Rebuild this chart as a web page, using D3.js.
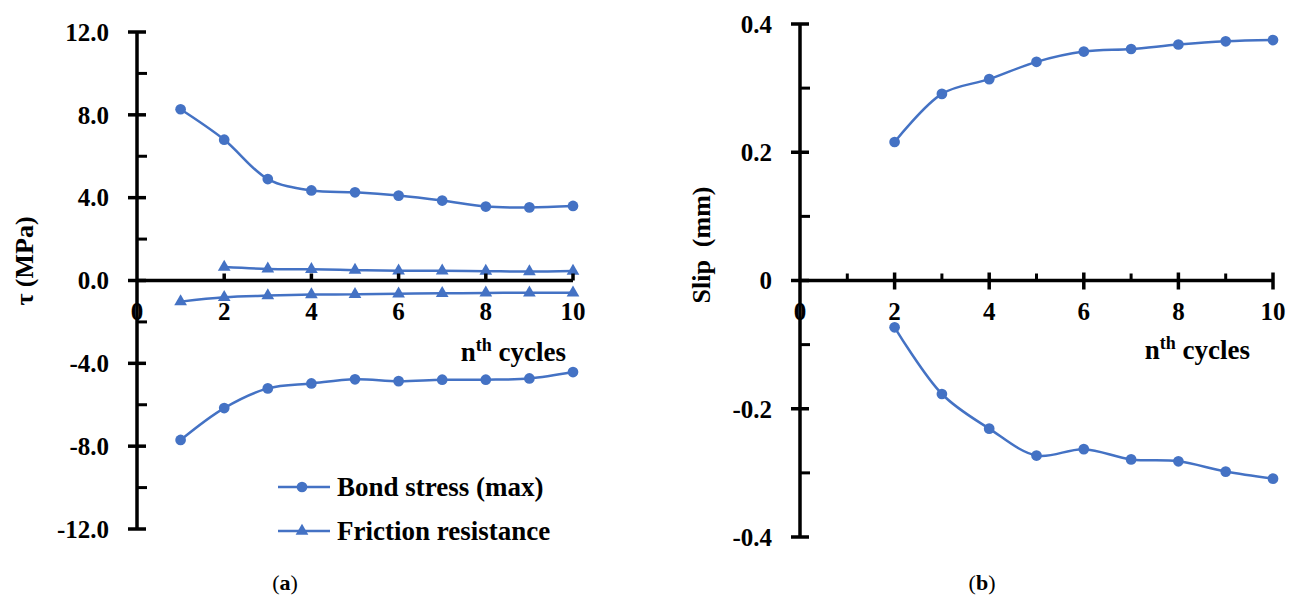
<!DOCTYPE html>
<html>
<head>
<meta charset="utf-8">
<script src="https://cdn.jsdelivr.net/npm/d3@7"></script>
<style>
  html, body { margin: 0; padding: 0; background: #fff; }
  svg { display: block; }
</style>
</head>
<body>
<svg id="chart" width="1299" height="596" font-family="'Liberation Serif', 'DejaVu Serif', serif" font-weight="bold"></svg>
<script>
  // ===== data =====
  var cycles = [1, 2, 3, 4, 5, 6, 7, 8, 9, 10];
  var bondMax = [8.27, 6.80, 4.90, 4.35, 4.26, 4.10, 3.86, 3.57, 3.53, 3.60];
  var bondMin = [-7.70, -6.16, -5.21, -4.97, -4.77, -4.86, -4.79, -4.79, -4.73, -4.42];
  var frictionPos = [null, 0.65, 0.56, 0.54, 0.50, 0.47, 0.47, 0.45, 0.43, 0.46];
  var frictionNeg = [-1.02, -0.81, -0.73, -0.68, -0.67, -0.64, -0.62, -0.60, -0.59, -0.59];

  var slipCycles = [2, 3, 4, 5, 6, 7, 8, 9, 10];
  var slipPos = [0.216, 0.291, 0.314, 0.341, 0.357, 0.361, 0.368, 0.373, 0.375];
  var slipNeg = [-0.073, -0.177, -0.231, -0.273, -0.263, -0.279, -0.282, -0.298, -0.309];

  var tauTicks = [-12, -8, -4, 0, 4, 8, 12];
  var tauMinor = [-10, -6, -2, 2, 6, 10];
  var cycleTicks = [0, 2, 4, 6, 8, 10];
  var cycleMinor = [1, 3, 5, 7, 9];
  var slipTicks = [-0.4, -0.2, 0, 0.2, 0.4];
  var slipMinor = [-0.3, -0.1, 0.1, 0.3];

  var legendLabels = ['Bond stress (max)', 'Friction resistance'];

  var BLUE = '#4472C4';
  var svg = d3.select('#chart');

  function zip(xs, ys) {
    return xs.map(function (x, i) { return { x: x, y: ys[i] }; })
      .filter(function (d) { return d.y !== null; });
  }

  function drawSeries(g, x, y, pts, shape) {
    var line = d3.line()
      .x(function (d) { return x(d.x); })
      .y(function (d) { return y(d.y); })
      .curve(d3.curveCatmullRom.alpha(0.5));
    g.append('path')
      .attr('d', line(pts))
      .attr('fill', 'none')
      .attr('stroke', BLUE)
      .attr('stroke-width', 2.5);
    var sym = shape === 'tri' ? d3.symbol(d3.symbolTriangle, 70) : d3.symbol(d3.symbolCircle, 90);
    g.selectAll(null)
      .data(pts)
      .join('path')
      .attr('d', sym)
      .attr('transform', function (d) { return 'translate(' + x(d.x) + ',' + y(d.y) + ')'; })
      .attr('fill', BLUE);
  }

  // vertical axis: major ticks cross the line, minor ticks point inward
  function drawYAxis(g, x0, y, major, minor, fmt) {
    var ax = g.append('g').attr('transform', 'translate(' + x0 + ',0)');
    ax.append('line')
      .attr('y1', y.range()[0]).attr('y2', y.range()[1])
      .attr('stroke', '#000').attr('stroke-width', 3.5);
    ax.selectAll('.maj').data(major).join('line')
      .attr('x1', -9).attr('x2', 9)
      .attr('y1', y).attr('y2', y)
      .attr('stroke', '#000').attr('stroke-width', 3.5);
    ax.selectAll('.min').data(minor).join('line')
      .attr('x1', 0).attr('x2', 10)
      .attr('y1', y).attr('y2', y)
      .attr('stroke', '#000').attr('stroke-width', 3);
    ax.selectAll('.lab').data(major).join('text')
      .attr('x', -28).attr('y', y).attr('dy', '0.35em')
      .attr('text-anchor', 'end')
      .attr('font-size', 25)
      .text(fmt);
  }

  function drawXLabels(g, x, y0, ticks) {
    g.selectAll(null).data(ticks).join('text')
      .attr('x', x).attr('y', y0 + 47)
      .attr('text-anchor', 'middle')
      .attr('font-size', 25)
      .text(function (d) { return d; });
  }

  function cyclesTitle(g, xEnd, yBase) {
    var t = g.append('text')
      .attr('x', xEnd).attr('y', yBase)
      .attr('text-anchor', 'end')
      .attr('font-size', 27);
    t.append('tspan').text('n');
    t.append('tspan').attr('dy', -10).attr('font-size', 18).text('th');
    t.append('tspan').attr('dy', 10).text(' cycles');
  }

  // ===== (a) bond stress =====
  var xa = d3.scaleLinear().domain([0, 10]).range([137, 573]);
  var ya = d3.scaleLinear().domain([-12, 12]).range([529, 32]);
  var ga = svg.append('g');

  drawSeries(ga, xa, ya, zip(cycles, bondMax), 'dot');
  drawSeries(ga, xa, ya, zip(cycles, bondMin), 'dot');
  drawSeries(ga, xa, ya, zip(cycles, frictionPos), 'tri');
  drawSeries(ga, xa, ya, zip(cycles, frictionNeg), 'tri');

  var axa = ga.append('g');
  axa.append('line')
    .attr('x1', xa(0)).attr('x2', xa(10))
    .attr('y1', ya(0)).attr('y2', ya(0))
    .attr('stroke', '#000').attr('stroke-width', 3.5);
  axa.selectAll(null).data(cycleTicks.slice(1)).join('line')
    .attr('x1', xa).attr('x2', xa)
    .attr('y1', ya(0) - 7).attr('y2', ya(0))
    .attr('stroke', '#000').attr('stroke-width', 3.5);
  drawYAxis(ga, xa(0), ya, tauTicks, tauMinor, function (d) { return d.toFixed(1); });
  drawXLabels(ga, xa, ya(0) - 8, cycleTicks);
  cyclesTitle(ga, 566, 361);

  ga.append('text')
    .attr('transform', 'translate(33,261) rotate(-90)')
    .attr('text-anchor', 'middle')
    .attr('font-size', 26)
    .text('τ (MPa)');

  // legend
  var leg = ga.append('g');
  legendLabels.forEach(function (lab, i) {
    var ly = 487 + i * 44;
    leg.append('line')
      .attr('x1', 278).attr('x2', 330).attr('y1', ly).attr('y2', ly)
      .attr('stroke', BLUE).attr('stroke-width', 2.5);
    leg.append('path')
      .attr('d', i === 0 ? d3.symbol(d3.symbolCircle, 90)() : d3.symbol(d3.symbolTriangle, 70)())
      .attr('transform', 'translate(302,' + ly + ')')
      .attr('fill', BLUE);
    leg.append('text')
      .attr('x', 337).attr('y', ly).attr('dy', '0.35em')
      .attr('font-size', 27)
      .text(lab);
  });

  // ===== (b) slip =====
  var xb = d3.scaleLinear().domain([0, 10]).range([800, 1273]);
  var yb = d3.scaleLinear().domain([-0.4, 0.4]).range([537, 24]);
  var gb = svg.append('g');

  drawSeries(gb, xb, yb, zip(slipCycles, slipPos), 'dot');
  drawSeries(gb, xb, yb, zip(slipCycles, slipNeg), 'dot');

  var axb = gb.append('g');
  axb.append('line')
    .attr('x1', xb(0)).attr('x2', xb(10))
    .attr('y1', yb(0)).attr('y2', yb(0))
    .attr('stroke', '#000').attr('stroke-width', 3.5);
  axb.selectAll(null).data(cycleTicks.slice(1)).join('line')
    .attr('x1', xb).attr('x2', xb)
    .attr('y1', yb(0) - 8).attr('y2', yb(0) + 9)
    .attr('stroke', '#000').attr('stroke-width', 3.5);
  axb.selectAll(null).data(cycleMinor).join('line')
    .attr('x1', xb).attr('x2', xb)
    .attr('y1', yb(0) - 7).attr('y2', yb(0))
    .attr('stroke', '#000').attr('stroke-width', 3);
  drawYAxis(gb, xb(0), yb, slipTicks, slipMinor, function (d) { return d === 0 ? '0' : d.toFixed(1); });
  drawXLabels(gb, xb, yb(0) - 8, cycleTicks);
  cyclesTitle(gb, 1250, 359);

  gb.append('text')
    .attr('transform', 'translate(710,245) rotate(-90)')
    .attr('text-anchor', 'middle')
    .attr('font-size', 26)
    .text('Slip\u00a0 (mm)');

  // captions
  [['a', 285], ['b', 982]].forEach(function (c) {
    var t = svg.append('text')
      .attr('x', c[1]).attr('y', 590)
      .attr('text-anchor', 'middle')
      .attr('font-size', 22);
    t.append('tspan').attr('font-weight', 'normal').text('(');
    t.append('tspan').text(c[0]);
    t.append('tspan').attr('font-weight', 'normal').text(')');
  });
</script>
</body>
</html>
